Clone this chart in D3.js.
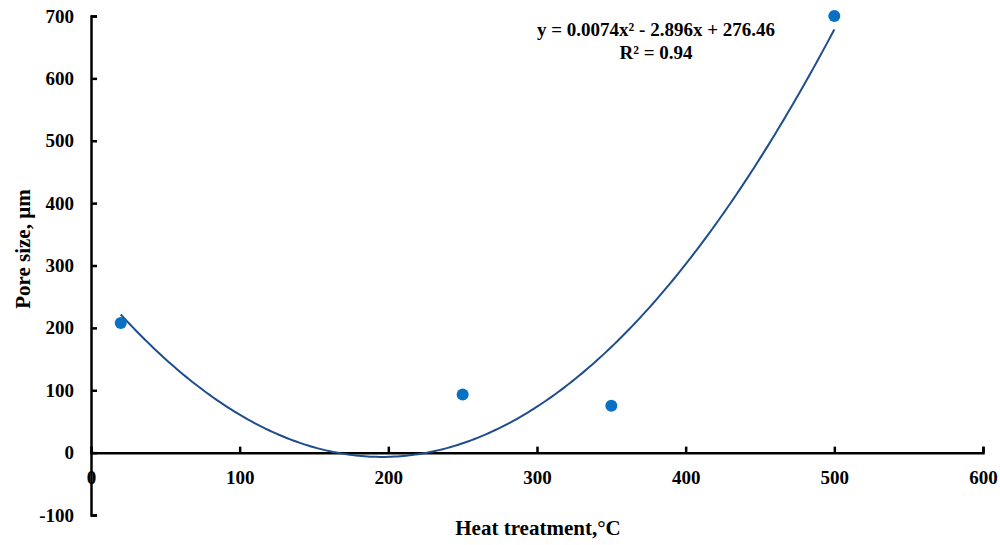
<!DOCTYPE html>
<html>
  <head>
    <meta charset="utf-8">
    <title>pore size</title>
    <style>
      body { margin: 0; background: white; }
      text { font-family: "Liberation Serif", "Times New Roman", serif; font-weight: bold; }
    </style>
  </head>
  <body>
    <div id="chart"></div>
    <script src="https://d3js.org/d3.v7.min.js"></script>
    <script>
    // data
    var heat = [20, 250, 350, 500];
    var pore = [208, 93, 75, 700];
    var trendCoef = [0.0074, -2.896, 276.46]; // a, b, c of the shown fit
    var rSquared = 0.94;
    var xTicks = [0, 100, 200, 300, 400, 500, 600];
    var yTicks = [-100, 0, 100, 200, 300, 400, 500, 600, 700];

    var width = 1000, height = 545;

    var svg = d3.select("#chart").append("svg")
      .attr("width", width)
      .attr("height", height);

    var x = d3.scaleLinear().domain([0, 600]).range([91, 983]);
    var y = d3.scaleLinear().domain([-100, 700]).range([515, 16]);

    var plain = function(d) { return String(d); };

    // y axis
    var yAxis = d3.axisLeft(y).tickValues(yTicks).tickFormat(plain)
      .tickSizeInner(-6).tickSizeOuter(-6).tickPadding(17);
    var gy = svg.append("g").attr("transform", "translate(" + x(0) + ",0)").call(yAxis);
    gy.select(".domain").attr("stroke-width", 2.5);
    gy.selectAll(".tick line").attr("stroke-width", 2.5);
    gy.selectAll(".tick text").attr("font-size", 19).attr("fill", "black");

    // x axis on y = 0
    var xAxis = d3.axisBottom(x).tickValues(xTicks).tickFormat(plain)
      .tickSizeInner(-6).tickSizeOuter(-6).tickPadding(18);
    var gx = svg.append("g").attr("transform", "translate(0," + y(0) + ")").call(xAxis);
    gx.select(".domain").attr("stroke-width", 2.5);
    gx.selectAll(".tick line").attr("stroke-width", 2.5);
    gx.selectAll(".tick text").attr("font-size", 19).attr("fill", "black");

    // polynomial trendline over the data range
    var xs = d3.range(d3.min(heat), d3.max(heat) + 1, 2);
    var poly = function(v) { return trendCoef[0] * v * v + trendCoef[1] * v + trendCoef[2]; };
    svg.append("path")
      .datum(xs)
      .attr("fill", "none")
      .attr("stroke", "#1f4e8c")
      .attr("stroke-width", 2)
      .attr("d", d3.line().x(function(d) { return x(d); }).y(function(d) { return y(poly(d)); }));

    // points
    svg.selectAll("circle")
      .data(heat)
      .enter()
      .append("circle")
      .attr("cx", function(d) { return x(d); })
      .attr("cy", function(d, i) { return y(pore[i]); })
      .attr("r", 6)
      .attr("fill", "#0a70c4");

    // equation label
    var eq = svg.append("text").attr("text-anchor", "middle").attr("font-size", 19);
    eq.append("tspan").attr("x", 656).attr("y", 36)
      .text("y = " + trendCoef[0] + "x² - " + Math.abs(trendCoef[1]) + "x + " + trendCoef[2]);
    eq.append("tspan").attr("x", 656).attr("y", 59).text("R² = " + rSquared);

    // axis titles
    svg.append("text")
      .attr("text-anchor", "middle")
      .attr("font-size", 21)
      .attr("transform", "translate(30,249) rotate(-90)")
      .text("Pore size, µm");

    svg.append("text")
      .attr("text-anchor", "middle")
      .attr("font-size", 21)
      .attr("x", 538)
      .attr("y", 535)
      .text("Heat treatment,°C");
    </script>
  </body>
</html>
